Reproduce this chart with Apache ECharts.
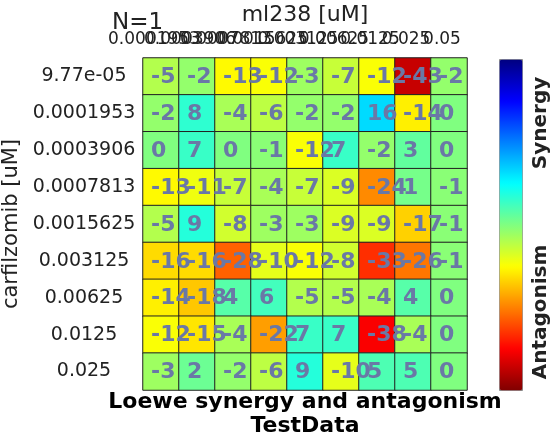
<!doctype html>
<html lang="en">
<head>
    <meta charset="UTF-8">
    <title>Loewe synergy and antagonism</title>
    <style>
        html, body { margin: 0; padding: 0; background: #fff; }
        #main { width: 553px; height: 437px; }
    </style>
</head>
<body>
<div id="main"></div>
<script src="https://cdn.jsdelivr.net/npm/echarts@6/dist/echarts.min.js"></script>
<script>
    // carfilzomib on rows (top to bottom), ml238 on columns
    var carfilzomib = ['9.77e-05', '0.0001953', '0.0003906', '0.0007813', '0.0015625', '0.003125', '0.00625', '0.0125', '0.025'];
    var ml238 = ['0.0001953', '0.0003906', '0.0007813', '0.0015625', '0.003125', '0.00625', '0.0125', '0.025', '0.05'];
    var row1 = [-5, -2, -13, -12, -3, -7, -12, -43, -2];
    var row2 = [-2, 8, -4, -6, -2, -2, 16, -14, 0];
    var row3 = [0, 7, 0, -1, -12, 7, -2, 3, 0];
    var row4 = [-13, -11, -7, -4, -7, -9, -24, 1, -1];
    var row5 = [-5, 9, -8, -3, -3, -9, -9, -17, -1];
    var row6 = [-16, -16, -28, -10, -12, -8, -33, -26, -1];
    var row7 = [-14, -18, 4, 6, -5, -5, -4, 4, 0];
    var row8 = [-12, -15, -4, -22, 7, 7, -38, -4, 0];
    var row9 = [-3, 2, -2, -6, 9, -10, 5, 5, 0];
    var rows = [row1, row2, row3, row4, row5, row6, row7, row8, row9];

    var cells = [];
    for (var r = 0; r < rows.length; r++) {
        for (var c = 0; c < rows[r].length; c++) {
            cells.push([c, r, rows[r][c]]);
        }
    }

    var font = 'DejaVu Sans';
    var myChart = echarts.init(document.getElementById('main'));
    var option = {
        backgroundColor: '#fff',
        animation: false,
        textStyle: { fontFamily: font },
        grid: { left: 143, top: 58, width: 324, height: 332, outerBoundsMode: 'none', containLabel: false },
        xAxis: {
            type: 'category',
            position: 'top',
            data: ml238,
            name: 'ml238 [uM]',
            nameLocation: 'middle',
            nameGap: 31,
            nameTextStyle: { fontSize: 22, color: '#222', fontFamily: font },
            axisLine: { show: false },
            axisTick: { show: false },
            splitLine: { show: false },
            axisLabel: {
                interval: 0,
                hideOverlap: false,
                margin: 10,
                fontSize: 17,
                color: '#222',
                fontFamily: font,
                padding: [0, 14, 0, 0]
            }
        },
        yAxis: {
            type: 'category',
            inverse: true,
            data: carfilzomib,
            name: 'carfilzomib [uM]',
            nameLocation: 'middle',
            nameGap: 113,
            nameTextStyle: { fontSize: 21, color: '#222', fontFamily: font },
            axisLine: { show: false },
            axisTick: { show: false },
            splitLine: { show: false },
            axisLabel: {
                interval: 0,
                margin: 59,
                align: 'center',
                fontSize: 19,
                color: '#222',
                fontFamily: font
            }
        },
        visualMap: {
            type: 'continuous',
            min: -50,
            max: 50,
            calculable: false,
            left: 499,
            top: 59,
            itemWidth: 23,
            itemHeight: 331,
            padding: 0,
            borderColor: '#888',
            borderWidth: 1,
            text: null,
            inRange: {
                // jet colormap, red = antagonism (low), blue = synergy (high)
                color: ['#800000', '#FF0000', '#FF8000', '#FFFF00', '#80FF80', '#00FFFF', '#0080FF', '#0000FF', '#000080']
            }
        },
        graphic: [
            {
                type: 'text', x: 112, y: 23,
                style: { text: 'N=1', fill: '#222', font: '23px "DejaVu Sans"', align: 'left', verticalAlign: 'middle' }
            },
            {
                type: 'text', x: 541, y: 123, rotation: Math.PI / 2,
                style: { text: 'Synergy', fill: '#222', font: 'bold 20px "DejaVu Sans"', align: 'center', verticalAlign: 'middle' }
            },
            {
                type: 'text', x: 541, y: 312, rotation: Math.PI / 2,
                style: { text: 'Antagonism', fill: '#222', font: 'bold 20px "DejaVu Sans"', align: 'center', verticalAlign: 'middle' }
            },
            {
                type: 'text', x: 305, y: 402,
                style: { text: 'Loewe synergy and antagonism', fill: '#000', font: 'bold 22px "DejaVu Sans"', align: 'center', verticalAlign: 'middle' }
            },
            {
                type: 'text', x: 305, y: 426,
                style: { text: 'TestData', fill: '#000', font: 'bold 22px "DejaVu Sans"', align: 'center', verticalAlign: 'middle' }
            }
        ],
        series: [{
            type: 'heatmap',
            data: cells,
            itemStyle: { borderColor: '#222', borderWidth: 1 },
            label: {
                show: true,
                position: 'inside',
                align: 'left',
                offset: [-10, 1],
                fontSize: 22,
                fontWeight: 'bold',
                fontFamily: font,
                color: '#6A78A6',
                formatter: function (p) { return p.value[2]; }
            },
            emphasis: { disabled: true }
        }]
    };
    myChart.setOption(option);
</script>
</body>
</html>
